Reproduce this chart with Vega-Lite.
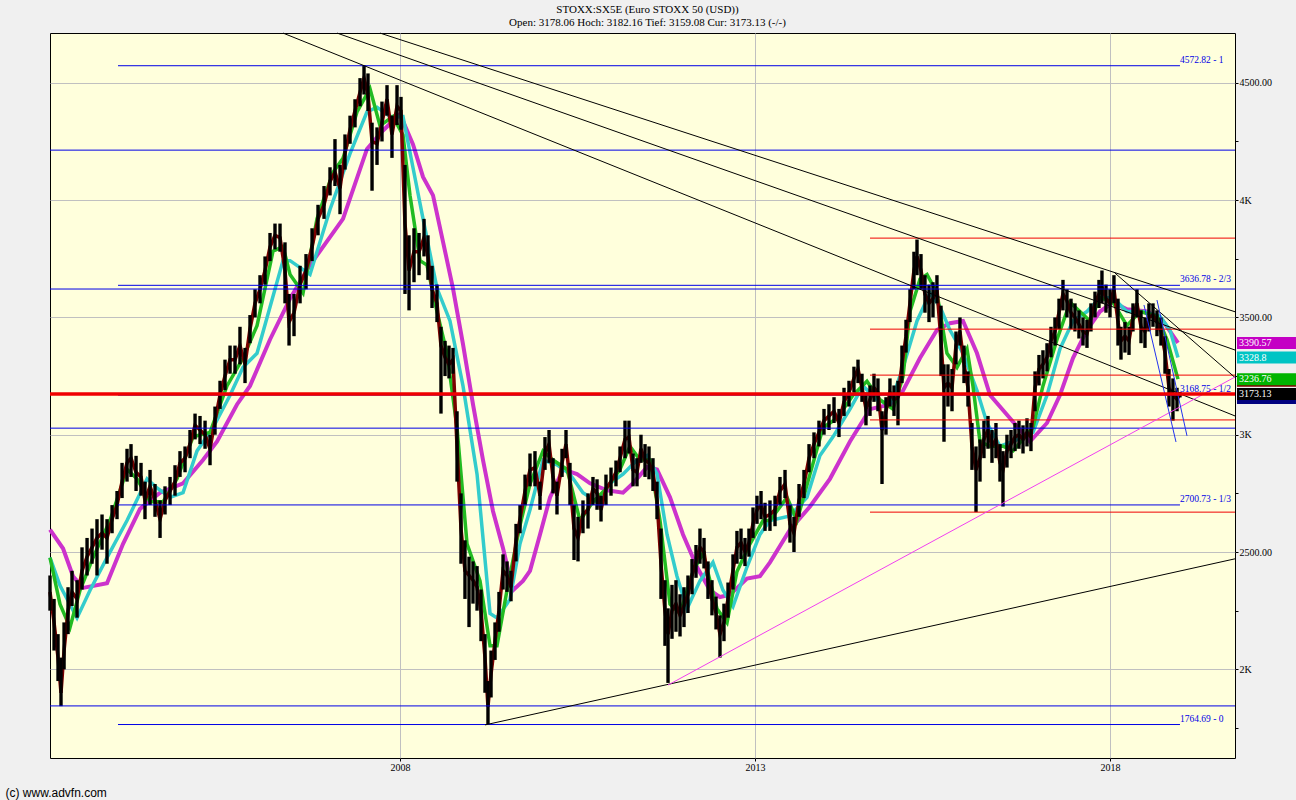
{
"$schema":"https://vega.github.io/schema/vega-lite/v6.json",
"width":1185,"height":725,
"autosize":{"type":"none"},
"padding":{"left":50,"top":33,"right":61,"bottom":42},
"background":"#F0F0F0",
"view":{"fill":"#FFFFDC","stroke":"#000000","strokeWidth":1},
"title":{"text":["STOXX:SX5E (Euro STOXX 50 (USD))","Open: 3178.06 Hoch: 3182.16 Tief: 3159.08 Cur: 3173.13 (-/-)"],"font":"Liberation Serif","fontSize":11,"fontWeight":"normal","color":"#000000","anchor":"middle","dx":5,"offset":5,"lineHeight":13},
"config":{"axis":{"labelFont":"Liberation Serif","labelFontSize":10,"labelColor":"#000000","tickColor":"#000000","gridColor":"#C0C0C0","gridWidth":1,"domain":false},"scale":{"continuousPadding":0}},
"datasets":{
"px":[
{"t":2003.070,"lo":2250,"c":2330,"hi":2400},{"t":2003.127,"lo":2080,"c":2200,"hi":2300},{"t":2003.183,"lo":1950,"c":2050,"hi":2150},{"t":2003.225,"lo":1843,"c":1900,"hi":2050},{"t":2003.268,"lo":2000,"c":2080,"hi":2200},{"t":2003.324,"lo":2150,"c":2250,"hi":2350},{"t":2003.380,"lo":2270,"c":2330,"hi":2420},{"t":2003.451,"lo":2220,"c":2300,"hi":2380},{"t":2003.521,"lo":2340,"c":2420,"hi":2520},{"t":2003.592,"lo":2400,"c":2480,"hi":2560},{"t":2003.662,"lo":2450,"c":2520,"hi":2600},{"t":2003.732,"lo":2400,"c":2560,"hi":2640},{"t":2003.803,"lo":2510,"c":2580,"hi":2660},{"t":2003.873,"lo":2450,"c":2560,"hi":2640},{"t":2003.944,"lo":2580,"c":2640,"hi":2700},{"t":2004.014,"lo":2640,"c":2700,"hi":2760},{"t":2004.085,"lo":2730,"c":2800,"hi":2880},{"t":2004.155,"lo":2800,"c":2880,"hi":2940},{"t":2004.211,"lo":2820,"c":2900,"hi":2960},{"t":2004.282,"lo":2760,"c":2840,"hi":2910},{"t":2004.352,"lo":2740,"c":2820,"hi":2880},{"t":2004.408,"lo":2640,"c":2720,"hi":2800},{"t":2004.479,"lo":2700,"c":2780,"hi":2850},{"t":2004.549,"lo":2650,"c":2720,"hi":2790},{"t":2004.620,"lo":2560,"c":2640,"hi":2720},{"t":2004.690,"lo":2660,"c":2720,"hi":2780},{"t":2004.761,"lo":2700,"c":2760,"hi":2820},{"t":2004.831,"lo":2740,"c":2800,"hi":2870},{"t":2004.901,"lo":2820,"c":2880,"hi":2930},{"t":2004.972,"lo":2840,"c":2900,"hi":2950},
{"t":2005.042,"lo":2900,"c":2960,"hi":3020},{"t":2005.113,"lo":2980,"c":3040,"hi":3090},{"t":2005.183,"lo":2960,"c":3020,"hi":3080},{"t":2005.254,"lo":2940,"c":3000,"hi":3060},{"t":2005.324,"lo":2870,"c":2940,"hi":3000},{"t":2005.394,"lo":3000,"c":3060,"hi":3120},{"t":2005.465,"lo":3110,"c":3170,"hi":3230},{"t":2005.535,"lo":3190,"c":3250,"hi":3320},{"t":2005.606,"lo":3260,"c":3320,"hi":3380},{"t":2005.676,"lo":3260,"c":3320,"hi":3380},{"t":2005.746,"lo":3300,"c":3380,"hi":3460},{"t":2005.817,"lo":3220,"c":3300,"hi":3370},{"t":2005.887,"lo":3390,"c":3450,"hi":3510},{"t":2005.958,"lo":3500,"c":3560,"hi":3620},{"t":2006.028,"lo":3560,"c":3620,"hi":3680},{"t":2006.099,"lo":3640,"c":3700,"hi":3760},{"t":2006.169,"lo":3740,"c":3800,"hi":3860},{"t":2006.239,"lo":3790,"c":3850,"hi":3900},{"t":2006.310,"lo":3780,"c":3840,"hi":3900},{"t":2006.380,"lo":3560,"c":3700,"hi":3820},{"t":2006.437,"lo":3380,"c":3480,"hi":3600},{"t":2006.507,"lo":3420,"c":3520,"hi":3600},{"t":2006.592,"lo":3560,"c":3640,"hi":3720},{"t":2006.676,"lo":3620,"c":3700,"hi":3770},{"t":2006.761,"lo":3740,"c":3800,"hi":3880},{"t":2006.845,"lo":3850,"c":3920,"hi":3980},{"t":2006.930,"lo":3920,"c":3980,"hi":4060},
{"t":2007.014,"lo":4020,"c":4080,"hi":4140},{"t":2007.084,"lo":4060,"c":4120,"hi":4260},{"t":2007.155,"lo":3940,"c":4050,"hi":4150},{"t":2007.225,"lo":4130,"c":4200,"hi":4280},{"t":2007.296,"lo":4240,"c":4300,"hi":4360},{"t":2007.366,"lo":4310,"c":4380,"hi":4430},{"t":2007.437,"lo":4400,"c":4460,"hi":4520},{"t":2007.493,"lo":4450,"c":4520,"hi":4574},{"t":2007.549,"lo":4380,"c":4450,"hi":4540},{"t":2007.606,"lo":4040,"c":4250,"hi":4330},{"t":2007.676,"lo":4150,"c":4240,"hi":4310},{"t":2007.746,"lo":4250,"c":4330,"hi":4420},{"t":2007.817,"lo":4360,"c":4430,"hi":4490},{"t":2007.887,"lo":4180,"c":4280,"hi":4360},{"t":2007.958,"lo":4320,"c":4400,"hi":4490},
{"t":2008.014,"lo":4300,"c":4380,"hi":4440},{"t":2008.070,"lo":3600,"c":3900,"hi":4150},{"t":2008.127,"lo":3530,"c":3700,"hi":3850},{"t":2008.197,"lo":3650,"c":3780,"hi":3880},{"t":2008.268,"lo":3680,"c":3780,"hi":3860},{"t":2008.338,"lo":3760,"c":3840,"hi":3920},{"t":2008.394,"lo":3660,"c":3760,"hi":3850},{"t":2008.451,"lo":3540,"c":3620,"hi":3720},{"t":2008.521,"lo":3480,"c":3560,"hi":3640},{"t":2008.577,"lo":3090,"c":3380,"hi":3460},{"t":2008.634,"lo":3250,"c":3330,"hi":3400},{"t":2008.690,"lo":3240,"c":3300,"hi":3380},{"t":2008.746,"lo":3260,"c":3320,"hi":3370},{"t":2008.803,"lo":2800,"c":2950,"hi":3100},{"t":2008.859,"lo":2450,"c":2600,"hi":2750},{"t":2008.915,"lo":2300,"c":2420,"hi":2550},{"t":2008.972,"lo":2180,"c":2400,"hi":2480},
{"t":2009.028,"lo":2280,"c":2380,"hi":2460},{"t":2009.085,"lo":2250,"c":2350,"hi":2440},{"t":2009.141,"lo":2120,"c":2250,"hi":2340},{"t":2009.197,"lo":1900,"c":2050,"hi":2150},{"t":2009.239,"lo":1765,"c":1840,"hi":1950},{"t":2009.282,"lo":1880,"c":1980,"hi":2080},{"t":2009.338,"lo":2040,"c":2120,"hi":2200},{"t":2009.394,"lo":2160,"c":2250,"hi":2330},{"t":2009.451,"lo":2340,"c":2420,"hi":2490},{"t":2009.507,"lo":2330,"c":2400,"hi":2460},{"t":2009.563,"lo":2290,"c":2350,"hi":2420},{"t":2009.634,"lo":2460,"c":2550,"hi":2620},{"t":2009.690,"lo":2580,"c":2640,"hi":2700},{"t":2009.761,"lo":2700,"c":2760,"hi":2830},{"t":2009.831,"lo":2780,"c":2850,"hi":2920},{"t":2009.901,"lo":2780,"c":2860,"hi":2930},{"t":2009.972,"lo":2680,"c":2740,"hi":2800},
{"t":2010.042,"lo":2850,"c":2920,"hi":2990},{"t":2010.099,"lo":2880,"c":2960,"hi":3020},{"t":2010.155,"lo":2750,"c":2820,"hi":2900},{"t":2010.211,"lo":2660,"c":2740,"hi":2800},{"t":2010.282,"lo":2820,"c":2880,"hi":2940},{"t":2010.338,"lo":2900,"c":2960,"hi":3020},{"t":2010.394,"lo":2700,"c":2800,"hi":2880},{"t":2010.451,"lo":2466,"c":2600,"hi":2700},{"t":2010.507,"lo":2460,"c":2560,"hi":2650},{"t":2010.577,"lo":2580,"c":2660,"hi":2720},{"t":2010.648,"lo":2600,"c":2680,"hi":2750},{"t":2010.718,"lo":2700,"c":2770,"hi":2820},{"t":2010.775,"lo":2680,"c":2750,"hi":2810},{"t":2010.831,"lo":2630,"c":2680,"hi":2740},{"t":2010.901,"lo":2700,"c":2770,"hi":2830},{"t":2010.972,"lo":2740,"c":2800,"hi":2860},
{"t":2011.042,"lo":2780,"c":2840,"hi":2890},{"t":2011.099,"lo":2840,"c":2900,"hi":2950},{"t":2011.169,"lo":2900,"c":2980,"hi":3060},{"t":2011.225,"lo":2920,"c":2990,"hi":3060},{"t":2011.282,"lo":2780,"c":2850,"hi":2920},{"t":2011.338,"lo":2780,"c":2840,"hi":2900},{"t":2011.394,"lo":2880,"c":2940,"hi":3000},{"t":2011.451,"lo":2820,"c":2890,"hi":2960},{"t":2011.507,"lo":2810,"c":2880,"hi":2950},{"t":2011.563,"lo":2760,"c":2840,"hi":2900},{"t":2011.620,"lo":2640,"c":2720,"hi":2800},{"t":2011.676,"lo":2300,"c":2450,"hi":2600},{"t":2011.732,"lo":2100,"c":2250,"hi":2380},{"t":2011.775,"lo":1942,"c":2150,"hi":2260},{"t":2011.831,"lo":2130,"c":2250,"hi":2360},{"t":2011.887,"lo":2160,"c":2280,"hi":2380},{"t":2011.944,"lo":2140,"c":2230,"hi":2320},
{"t":2012.000,"lo":2180,"c":2270,"hi":2350},{"t":2012.056,"lo":2240,"c":2320,"hi":2400},{"t":2012.113,"lo":2320,"c":2400,"hi":2470},{"t":2012.169,"lo":2390,"c":2460,"hi":2530},{"t":2012.225,"lo":2450,"c":2520,"hi":2600},{"t":2012.282,"lo":2430,"c":2500,"hi":2560},{"t":2012.338,"lo":2300,"c":2380,"hi":2460},{"t":2012.394,"lo":2230,"c":2300,"hi":2380},{"t":2012.451,"lo":2170,"c":2240,"hi":2310},{"t":2012.507,"lo":2050,"c":2150,"hi":2230},{"t":2012.563,"lo":2120,"c":2200,"hi":2280},{"t":2012.620,"lo":2220,"c":2300,"hi":2370},{"t":2012.690,"lo":2340,"c":2420,"hi":2490},{"t":2012.746,"lo":2450,"c":2520,"hi":2590},{"t":2012.803,"lo":2470,"c":2540,"hi":2600},{"t":2012.859,"lo":2440,"c":2500,"hi":2560},{"t":2012.915,"lo":2480,"c":2540,"hi":2600},{"t":2012.972,"lo":2560,"c":2620,"hi":2690},
{"t":2013.028,"lo":2620,"c":2680,"hi":2740},{"t":2013.085,"lo":2640,"c":2700,"hi":2760},{"t":2013.141,"lo":2590,"c":2650,"hi":2710},{"t":2013.211,"lo":2590,"c":2660,"hi":2720},{"t":2013.282,"lo":2610,"c":2680,"hi":2740},{"t":2013.352,"lo":2700,"c":2760,"hi":2820},{"t":2013.423,"lo":2730,"c":2790,"hi":2850},{"t":2013.493,"lo":2540,"c":2620,"hi":2700},{"t":2013.549,"lo":2500,"c":2580,"hi":2650},{"t":2013.620,"lo":2650,"c":2720,"hi":2790},{"t":2013.690,"lo":2730,"c":2790,"hi":2850},{"t":2013.761,"lo":2840,"c":2900,"hi":2960},{"t":2013.831,"lo":2900,"c":2960,"hi":3010},{"t":2013.901,"lo":2950,"c":3010,"hi":3060},{"t":2013.972,"lo":3000,"c":3060,"hi":3110},
{"t":2014.042,"lo":3020,"c":3080,"hi":3130},{"t":2014.113,"lo":3050,"c":3100,"hi":3160},{"t":2014.183,"lo":2990,"c":3050,"hi":3110},{"t":2014.254,"lo":3080,"c":3140,"hi":3200},{"t":2014.324,"lo":3120,"c":3180,"hi":3230},{"t":2014.394,"lo":3180,"c":3240,"hi":3290},{"t":2014.451,"lo":3220,"c":3280,"hi":3320},{"t":2014.507,"lo":3140,"c":3200,"hi":3260},{"t":2014.563,"lo":3040,"c":3110,"hi":3180},{"t":2014.620,"lo":3080,"c":3150,"hi":3210},{"t":2014.676,"lo":3140,"c":3200,"hi":3260},{"t":2014.732,"lo":3100,"c":3180,"hi":3240},{"t":2014.789,"lo":2790,"c":3020,"hi":3100},{"t":2014.845,"lo":3000,"c":3100,"hi":3160},{"t":2014.901,"lo":3120,"c":3180,"hi":3240},{"t":2014.958,"lo":3080,"c":3150,"hi":3210},
{"t":2015.014,"lo":3040,"c":3160,"hi":3230},{"t":2015.070,"lo":3220,"c":3300,"hi":3380},{"t":2015.127,"lo":3350,"c":3420,"hi":3490},{"t":2015.183,"lo":3480,"c":3560,"hi":3620},{"t":2015.239,"lo":3620,"c":3700,"hi":3780},{"t":2015.282,"lo":3680,"c":3760,"hi":3832},{"t":2015.338,"lo":3620,"c":3700,"hi":3770},{"t":2015.394,"lo":3520,"c":3600,"hi":3680},{"t":2015.451,"lo":3480,"c":3560,"hi":3640},{"t":2015.507,"lo":3500,"c":3580,"hi":3650},{"t":2015.563,"lo":3560,"c":3620,"hi":3680},{"t":2015.620,"lo":3250,"c":3400,"hi":3550},{"t":2015.662,"lo":2970,"c":3200,"hi":3300},{"t":2015.718,"lo":3120,"c":3220,"hi":3300},{"t":2015.775,"lo":3100,"c":3200,"hi":3280},{"t":2015.831,"lo":3300,"c":3380,"hi":3440},{"t":2015.887,"lo":3380,"c":3440,"hi":3500},{"t":2015.944,"lo":3220,"c":3300,"hi":3380},
{"t":2016.000,"lo":3120,"c":3200,"hi":3270},{"t":2016.056,"lo":2850,"c":2950,"hi":3050},{"t":2016.113,"lo":2670,"c":2850,"hi":2950},{"t":2016.169,"lo":2800,"c":2900,"hi":2980},{"t":2016.225,"lo":2900,"c":2980,"hi":3060},{"t":2016.282,"lo":2940,"c":3020,"hi":3080},{"t":2016.338,"lo":2880,"c":2950,"hi":3020},{"t":2016.394,"lo":2900,"c":2980,"hi":3050},{"t":2016.451,"lo":2800,"c":2880,"hi":2960},{"t":2016.493,"lo":2694,"c":2850,"hi":2930},{"t":2016.549,"lo":2860,"c":2930,"hi":3000},{"t":2016.606,"lo":2900,"c":2960,"hi":3020},{"t":2016.662,"lo":2930,"c":2990,"hi":3050},{"t":2016.718,"lo":2940,"c":3000,"hi":3060},{"t":2016.775,"lo":2920,"c":2980,"hi":3040},{"t":2016.831,"lo":2950,"c":3010,"hi":3070},{"t":2016.887,"lo":2930,"c":2990,"hi":3050},{"t":2016.944,"lo":3100,"c":3200,"hi":3270},
{"t":2017.000,"lo":3210,"c":3280,"hi":3340},{"t":2017.056,"lo":3240,"c":3300,"hi":3360},{"t":2017.113,"lo":3270,"c":3330,"hi":3390},{"t":2017.169,"lo":3330,"c":3400,"hi":3460},{"t":2017.225,"lo":3380,"c":3440,"hi":3500},{"t":2017.282,"lo":3450,"c":3520,"hi":3580},{"t":2017.338,"lo":3530,"c":3600,"hi":3660},{"t":2017.394,"lo":3500,"c":3570,"hi":3620},{"t":2017.451,"lo":3450,"c":3520,"hi":3580},{"t":2017.507,"lo":3440,"c":3500,"hi":3560},{"t":2017.563,"lo":3410,"c":3470,"hi":3530},{"t":2017.620,"lo":3380,"c":3440,"hi":3500},{"t":2017.676,"lo":3370,"c":3430,"hi":3490},{"t":2017.732,"lo":3440,"c":3500,"hi":3560},{"t":2017.789,"lo":3500,"c":3560,"hi":3610},{"t":2017.845,"lo":3540,"c":3600,"hi":3660},{"t":2017.887,"lo":3560,"c":3630,"hi":3700},{"t":2017.944,"lo":3520,"c":3580,"hi":3640},
{"t":2018.000,"lo":3500,"c":3560,"hi":3620},{"t":2018.056,"lo":3560,"c":3620,"hi":3680},{"t":2018.113,"lo":3380,"c":3480,"hi":3580},{"t":2018.155,"lo":3320,"c":3400,"hi":3460},{"t":2018.211,"lo":3350,"c":3420,"hi":3480},{"t":2018.268,"lo":3340,"c":3400,"hi":3460},{"t":2018.324,"lo":3440,"c":3500,"hi":3560},{"t":2018.380,"lo":3500,"c":3560,"hi":3620},{"t":2018.437,"lo":3390,"c":3460,"hi":3530},{"t":2018.493,"lo":3370,"c":3440,"hi":3500},{"t":2018.549,"lo":3440,"c":3500,"hi":3560},{"t":2018.606,"lo":3460,"c":3510,"hi":3560},{"t":2018.662,"lo":3420,"c":3480,"hi":3530},{"t":2018.718,"lo":3380,"c":3440,"hi":3500},{"t":2018.775,"lo":3260,"c":3350,"hi":3420},{"t":2018.831,"lo":3120,"c":3200,"hi":3280},{"t":2018.887,"lo":3060,"c":3170,"hi":3240},{"t":2018.944,"lo":3100,"c":3150,"hi":3200},{"t":2018.986,"lo":3159,"c":3173,"hi":3182}
],
"mm":[
{"t":2003.070,"v":2595},{"t":2003.254,"v":2515},{"t":2003.394,"v":2397},{"t":2003.535,"v":2347},{"t":2003.873,"v":2367},{"t":2004.099,"v":2535},{"t":2004.338,"v":2684},{"t":2004.620,"v":2753},{"t":2004.944,"v":2793},{"t":2005.225,"v":2892},{"t":2005.423,"v":2971},{"t":2005.704,"v":3129},{"t":2005.887,"v":3208},{"t":2006.169,"v":3406},{"t":2006.451,"v":3580},{"t":2006.732,"v":3723},{"t":2007.197,"v":3920},{"t":2007.535,"v":4218},{"t":2007.761,"v":4297},{"t":2008.000,"v":4366},{"t":2008.183,"v":4237},{"t":2008.324,"v":4099},{"t":2008.465,"v":4020},{"t":2008.606,"v":3822},{"t":2008.746,"v":3624},{"t":2008.887,"v":3386},{"t":2009.028,"v":3129},{"t":2009.169,"v":2892},{"t":2009.310,"v":2674},{"t":2009.451,"v":2516},{"t":2009.592,"v":2337},{"t":2009.732,"v":2377},{"t":2009.831,"v":2420},{"t":2009.972,"v":2575},{"t":2010.113,"v":2733},{"t":2010.296,"v":2852},{"t":2010.493,"v":2832},{"t":2010.676,"v":2793},{"t":2010.915,"v":2763},{"t":2011.141,"v":2753},{"t":2011.282,"v":2793},{"t":2011.479,"v":2862},{"t":2011.620,"v":2852},{"t":2011.803,"v":2733},{"t":2011.986,"v":2575},{"t":2012.183,"v":2436},{"t":2012.366,"v":2337},{"t":2012.507,"v":2308},{"t":2012.648,"v":2318},{"t":2012.887,"v":2387},{"t":2013.070,"v":2397},{"t":2013.211,"v":2456},{"t":2013.493,"v":2595},{"t":2013.775,"v":2694},{"t":2014.056,"v":2812},{"t":2014.338,"v":2971},{"t":2014.620,"v":3109},{"t":2014.901,"v":3129},{"t":2015.085,"v":3188},{"t":2015.324,"v":3327},{"t":2015.563,"v":3446},{"t":2015.746,"v":3475},{"t":2015.930,"v":3485},{"t":2016.127,"v":3347},{"t":2016.310,"v":3169},{"t":2016.592,"v":3070},{"t":2016.873,"v":2971},{"t":2017.113,"v":3050},{"t":2017.296,"v":3169},{"t":2017.479,"v":3327},{"t":2017.676,"v":3446},{"t":2017.859,"v":3525},{"t":2018.042,"v":3564},{"t":2018.239,"v":3535},{"t":2018.521,"v":3525},{"t":2018.746,"v":3485},{"t":2018.958,"v":3391}
],
"mc":[
{"t":2003.070,"v":2476},{"t":2003.211,"v":2357},{"t":2003.451,"v":2219},{"t":2003.634,"v":2337},{"t":2003.873,"v":2476},{"t":2004.155,"v":2634},{"t":2004.437,"v":2812},{"t":2004.577,"v":2773},{"t":2004.761,"v":2733},{"t":2004.944,"v":2753},{"t":2005.141,"v":2931},{"t":2005.366,"v":3030},{"t":2005.606,"v":3168},{"t":2005.789,"v":3287},{"t":2005.986,"v":3347},{"t":2006.169,"v":3544},{"t":2006.352,"v":3742},{"t":2006.451,"v":3742},{"t":2006.732,"v":3683},{"t":2007.014,"v":3960},{"t":2007.296,"v":4198},{"t":2007.535,"v":4376},{"t":2007.676,"v":4396},{"t":2007.859,"v":4356},{"t":2008.042,"v":4356},{"t":2008.183,"v":4138},{"t":2008.324,"v":3921},{"t":2008.521,"v":3624},{"t":2008.704,"v":3485},{"t":2008.887,"v":3208},{"t":2009.085,"v":2832},{"t":2009.268,"v":2238},{"t":2009.366,"v":2219},{"t":2009.549,"v":2298},{"t":2009.690,"v":2535},{"t":2009.831,"v":2680},{"t":2010.014,"v":2892},{"t":2010.211,"v":2872},{"t":2010.394,"v":2832},{"t":2010.577,"v":2753},{"t":2010.775,"v":2714},{"t":2010.958,"v":2793},{"t":2011.141,"v":2832},{"t":2011.338,"v":2892},{"t":2011.479,"v":2911},{"t":2011.620,"v":2832},{"t":2011.761,"v":2575},{"t":2011.901,"v":2397},{"t":2012.042,"v":2258},{"t":2012.225,"v":2377},{"t":2012.408,"v":2456},{"t":2012.549,"v":2337},{"t":2012.690,"v":2268},{"t":2012.887,"v":2436},{"t":2013.070,"v":2575},{"t":2013.211,"v":2634},{"t":2013.493,"v":2654},{"t":2013.732,"v":2733},{"t":2013.915,"v":2911},{"t":2014.099,"v":2991},{"t":2014.338,"v":3109},{"t":2014.521,"v":3208},{"t":2014.718,"v":3149},{"t":2014.901,"v":3129},{"t":2015.085,"v":3287},{"t":2015.282,"v":3485},{"t":2015.465,"v":3604},{"t":2015.606,"v":3545},{"t":2015.746,"v":3446},{"t":2015.930,"v":3347},{"t":2016.127,"v":3188},{"t":2016.268,"v":3050},{"t":2016.451,"v":2951},{"t":2016.634,"v":2971},{"t":2016.915,"v":3010},{"t":2017.113,"v":3168},{"t":2017.296,"v":3366},{"t":2017.479,"v":3485},{"t":2017.676,"v":3525},{"t":2017.859,"v":3584},{"t":2018.042,"v":3584},{"t":2018.239,"v":3525},{"t":2018.465,"v":3525},{"t":2018.704,"v":3505},{"t":2018.845,"v":3446},{"t":2018.958,"v":3329}
],
"mg":[
{"t":2003.070,"v":2476},{"t":2003.211,"v":2278},{"t":2003.352,"v":2179},{"t":2003.493,"v":2337},{"t":2003.676,"v":2476},{"t":2003.915,"v":2634},{"t":2004.155,"v":2852},{"t":2004.296,"v":2812},{"t":2004.479,"v":2714},{"t":2004.662,"v":2714},{"t":2004.859,"v":2812},{"t":2005.085,"v":2991},{"t":2005.324,"v":3010},{"t":2005.563,"v":3208},{"t":2005.789,"v":3327},{"t":2005.986,"v":3465},{"t":2006.211,"v":3782},{"t":2006.352,"v":3802},{"t":2006.451,"v":3683},{"t":2006.634,"v":3604},{"t":2006.831,"v":3921},{"t":2007.056,"v":4119},{"t":2007.197,"v":4178},{"t":2007.394,"v":4376},{"t":2007.577,"v":4475},{"t":2007.718,"v":4317},{"t":2007.901,"v":4356},{"t":2008.042,"v":4277},{"t":2008.141,"v":4020},{"t":2008.282,"v":3742},{"t":2008.380,"v":3723},{"t":2008.521,"v":3525},{"t":2008.662,"v":3347},{"t":2008.803,"v":3030},{"t":2008.944,"v":2535},{"t":2009.127,"v":2377},{"t":2009.268,"v":2100},{"t":2009.366,"v":2100},{"t":2009.507,"v":2337},{"t":2009.690,"v":2614},{"t":2009.831,"v":2790},{"t":2010.014,"v":2931},{"t":2010.155,"v":2892},{"t":2010.352,"v":2852},{"t":2010.535,"v":2634},{"t":2010.718,"v":2714},{"t":2010.915,"v":2773},{"t":2011.099,"v":2852},{"t":2011.239,"v":2951},{"t":2011.380,"v":2892},{"t":2011.521,"v":2892},{"t":2011.662,"v":2634},{"t":2011.803,"v":2278},{"t":2011.944,"v":2238},{"t":2012.127,"v":2417},{"t":2012.268,"v":2496},{"t":2012.465,"v":2258},{"t":2012.606,"v":2199},{"t":2012.746,"v":2417},{"t":2012.930,"v":2535},{"t":2013.113,"v":2634},{"t":2013.211,"v":2634},{"t":2013.451,"v":2733},{"t":2013.592,"v":2634},{"t":2013.775,"v":2832},{"t":2013.958,"v":3030},{"t":2014.155,"v":3070},{"t":2014.380,"v":3168},{"t":2014.577,"v":3228},{"t":2014.761,"v":3149},{"t":2014.944,"v":3109},{"t":2015.085,"v":3248},{"t":2015.183,"v":3525},{"t":2015.324,"v":3663},{"t":2015.423,"v":3683},{"t":2015.563,"v":3604},{"t":2015.704,"v":3347},{"t":2015.845,"v":3287},{"t":2015.986,"v":3366},{"t":2016.070,"v":3208},{"t":2016.169,"v":2971},{"t":2016.310,"v":2951},{"t":2016.493,"v":2951},{"t":2016.634,"v":2931},{"t":2016.915,"v":3030},{"t":2017.056,"v":3208},{"t":2017.254,"v":3406},{"t":2017.437,"v":3564},{"t":2017.577,"v":3525},{"t":2017.718,"v":3485},{"t":2017.859,"v":3584},{"t":2018.042,"v":3564},{"t":2018.239,"v":3465},{"t":2018.423,"v":3525},{"t":2018.662,"v":3505},{"t":2018.803,"v":3406},{"t":2018.958,"v":3237}
],
"seg":[
{"k":"fib","t1":2004.028,"v1":4572.82,"t2":2018.986,"v2":4572.82,"lab":"4572.82 - 1"},
{"k":"fib","t1":2004.028,"v1":3636.78,"t2":2018.986,"v2":3636.78,"lab":"3636.78 - 2/3"},
{"k":"fib","t1":2004.028,"v1":3168.75,"t2":2018.986,"v2":3168.75,"lab":"3168.75 - 1/2"},
{"k":"fib","t1":2004.028,"v1":2700.73,"t2":2018.986,"v2":2700.73,"lab":"2700.73 - 1/3"},
{"k":"fib","t1":2004.028,"v1":1764.69,"t2":2018.986,"v2":1764.69,"lab":"1764.69 - 0"},
{"k":"blue","t1":2003.07,"v1":4213,"t2":2019.761,"v2":4213},
{"k":"blue","t1":2003.07,"v1":3621,"t2":2019.761,"v2":3621},
{"k":"blue","t1":2003.07,"v1":3028,"t2":2019.761,"v2":3028},
{"k":"blue","t1":2003.07,"v1":1844,"t2":2019.761,"v2":1844},
{"k":"red","t1":2014.62,"v1":3838,"t2":2019.761,"v2":3838},
{"k":"red","t1":2014.62,"v1":3450,"t2":2019.761,"v2":3450},
{"k":"red","t1":2014.62,"v1":3254,"t2":2019.761,"v2":3254},
{"k":"red","t1":2014.62,"v1":3063,"t2":2019.761,"v2":3063},
{"k":"red","t1":2014.62,"v1":2670,"t2":2019.761,"v2":2670},
{"k":"cur","t1":2003.07,"v1":3173.13,"t2":2019.761,"v2":3173.13},
{"k":"trend","t1":2006.352,"v1":4712,"t2":2019.761,"v2":3080},
{"k":"trend","t1":2007.113,"v1":4712,"t2":2019.761,"v2":3361},
{"k":"trend","t1":2007.718,"v1":4712,"t2":2019.761,"v2":3524},
{"k":"trend","t1":2018.070,"v1":3689,"t2":2019.761,"v2":3244},
{"k":"trend","t1":2009.197,"v1":1763,"t2":2019.761,"v2":2471},
{"k":"support","t1":2011.775,"v1":1933,"t2":2019.761,"v2":3246},
{"k":"channel","t1":2018.662,"v1":3574,"t2":2019.085,"v2":2995},
{"k":"channel","t1":2018.479,"v1":3553,"t2":2018.930,"v2":2969}
],
"badge":[
{"k":"navy","v":3156,"txt":""},
{"k":"maroon","v":3230,"txt":""},
{"k":"black","v":3173.13,"txt":"3173.13"},
{"k":"green","v":3236.76,"txt":"3236.76"},
{"k":"cyan","v":3328.8,"txt":"3328.8"},
{"k":"magenta","v":3390.57,"txt":"3390.57"}
]
},
"layer":[
{"data":{"name":"mm"},"mark":{"type":"line","color":"#CC33CC","strokeWidth":4},
 "encoding":{
  "x":{"field":"t","type":"quantitative","scale":{"domain":[2003.07,2019.761],"nice":false,"zero":false,"padding":0},
   "axis":{"values":[2008,2013,2018],"format":"d","grid":true,"tickSize":3,"labelPadding":1,"labelFlush":false,"title":"(c) www.advfn.com","titleFont":"Liberation Sans","titleFontSize":12,"titleFontWeight":"normal","titleColor":"#000000","titleAnchor":"start","titleAlign":"left","titleBaseline":"middle","titleX":-45,"titleY":34}},
  "y":{"field":"v","type":"quantitative","scale":{"domain":[1622,4712.3],"nice":false,"zero":false,"padding":0},
   "axis":{"orient":"right","values":[1750,2000,2250,2500,2750,3000,3250,3500,3750,4000,4250,4500],"grid":true,"gridOpacity":{"condition":{"test":"datum.value % 500 === 0","value":1},"value":0},"tickSize":3,"labelPadding":1,"labelOverlap":false,"labelFlush":false,"title":null,
    "labelExpr":"datum.value % 1000 === 0 ? (datum.value/1000) + 'K' : (datum.value % 500 === 0 ? format(datum.value, '.2f') : '')"}}}},
{"data":{"name":"mc"},"mark":{"type":"line","color":"#33CCCC","strokeWidth":3.5},
 "encoding":{"x":{"field":"t","type":"quantitative"},"y":{"field":"v","type":"quantitative"}}},
{"data":{"name":"mg"},"mark":{"type":"line","color":"#22BB22","strokeWidth":3.5},
 "encoding":{"x":{"field":"t","type":"quantitative"},"y":{"field":"v","type":"quantitative"}}},
{"data":{"name":"px"},"mark":{"type":"line","color":"#7A0000","strokeWidth":3.5},
 "encoding":{"x":{"field":"t","type":"quantitative"},"y":{"field":"c","type":"quantitative"}}},
{"data":{"name":"px"},"mark":{"type":"rule","color":"#000000","strokeWidth":3.4},
 "encoding":{"x":{"field":"t","type":"quantitative"},"y":{"field":"lo","type":"quantitative"},"y2":{"field":"hi"}}},
{"data":{"name":"seg"},"transform":[{"filter":"datum.k === 'fib' || datum.k === 'blue'"}],"mark":{"type":"rule","color":"#0000E6","strokeWidth":1},
 "encoding":{"x":{"field":"t1","type":"quantitative"},"x2":{"field":"t2"},"y":{"field":"v1","type":"quantitative"},"y2":{"field":"v2"}}},
{"data":{"name":"seg"},"transform":[{"filter":"datum.k === 'red'"}],"mark":{"type":"rule","color":"#F00000","strokeWidth":1},
 "encoding":{"x":{"field":"t1","type":"quantitative"},"x2":{"field":"t2"},"y":{"field":"v1","type":"quantitative"},"y2":{"field":"v2"}}},
{"data":{"name":"seg"},"transform":[{"filter":"datum.k === 'trend'"}],"mark":{"type":"rule","color":"#000000","strokeWidth":1},
 "encoding":{"x":{"field":"t1","type":"quantitative"},"x2":{"field":"t2"},"y":{"field":"v1","type":"quantitative"},"y2":{"field":"v2"}}},
{"data":{"name":"seg"},"transform":[{"filter":"datum.k === 'support'"}],"mark":{"type":"rule","color":"#F040F0","strokeWidth":1},
 "encoding":{"x":{"field":"t1","type":"quantitative"},"x2":{"field":"t2"},"y":{"field":"v1","type":"quantitative"},"y2":{"field":"v2"}}},
{"data":{"name":"seg"},"transform":[{"filter":"datum.k === 'channel'"}],"mark":{"type":"rule","color":"#2233EE","strokeWidth":1},
 "encoding":{"x":{"field":"t1","type":"quantitative"},"x2":{"field":"t2"},"y":{"field":"v1","type":"quantitative"},"y2":{"field":"v2"}}},
{"data":{"name":"seg"},"transform":[{"filter":"datum.k === 'cur'"}],"mark":{"type":"rule","color":"#F00000","strokeWidth":3.5},
 "encoding":{"x":{"field":"t1","type":"quantitative"},"x2":{"field":"t2"},"y":{"field":"v1","type":"quantitative"},"y2":{"field":"v2"}}},
{"data":{"name":"seg"},"transform":[{"filter":"datum.k === 'fib'"}],"mark":{"type":"text","align":"left","baseline":"middle","dy":-6,"font":"Liberation Serif","fontSize":9.5,"color":"#0000E6"},
 "encoding":{"x":{"field":"t2","type":"quantitative"},"y":{"field":"v1","type":"quantitative"},"text":{"field":"lab"}}},
{"data":{"name":"badge"},"mark":{"type":"bar","orient":"horizontal","size":12},
 "encoding":{"x":{"datum":2019.789,"type":"quantitative"},"x2":{"datum":2020.62},"y":{"field":"v","type":"quantitative"},
  "color":{"field":"k","type":"nominal","scale":{"domain":["navy","maroon","black","green","cyan","magenta"],"range":["#000080","#800000","#000000","#00B400","#00C4C4","#C400C4"]},"legend":null}}},
{"data":{"name":"badge"},"transform":[{"filter":"datum.txt !== ''"}],"mark":{"type":"text","align":"left","baseline":"middle","dx":2,"font":"Liberation Serif","fontSize":10,"color":"#FFFFFF"},
 "encoding":{"x":{"datum":2019.789,"type":"quantitative"},"y":{"field":"v","type":"quantitative"},"text":{"field":"txt"}}}
]
}
